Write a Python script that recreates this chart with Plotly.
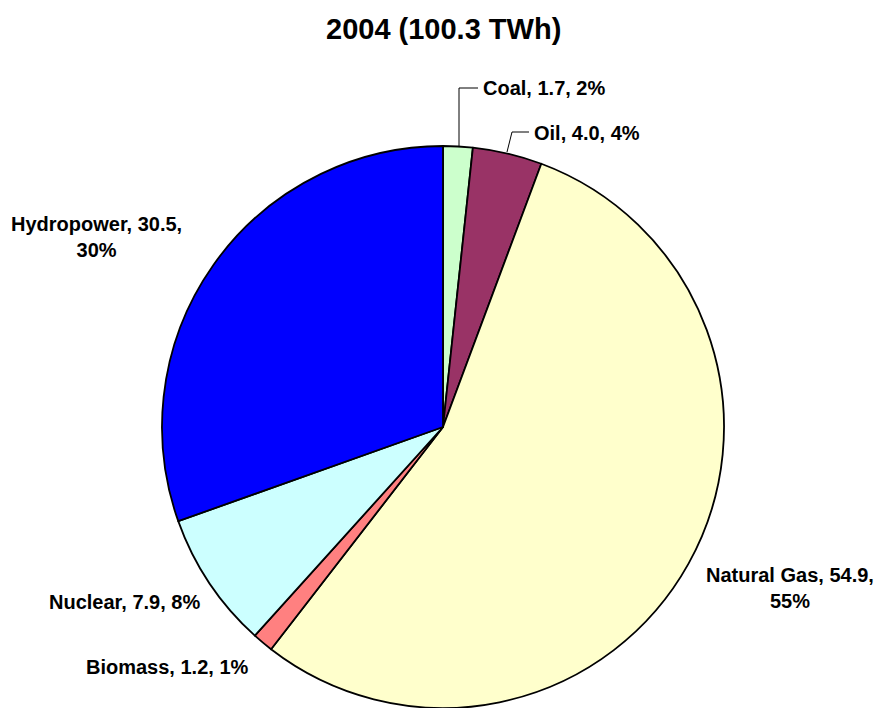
import plotly.graph_objects as go

labels = ["Coal", "Oil", "Natural Gas", "Biomass", "Nuclear", "Hydropower"]
values = [1.7, 4.0, 54.9, 1.2, 7.9, 30.5]
colors = ["#CCFFCC", "#993366", "#FFFFCC", "#FF8080", "#CCFFFF", "#0000FF"]
total_twh = 100.3
title_text = f"2004 ({total_twh} TWh)"

W, H = 883, 708
OFF = 8  # page body margin

def px(x, y):
    return (x - OFF) / W, 1 - (y - OFF) / H

dx0, dy1 = px(162, 146)
dx1, dy0 = px(724, 708)

fig = go.Figure(go.Pie(
    labels=labels, values=values, sort=False, direction="clockwise", rotation=0,
    marker=dict(colors=colors, line=dict(color="black", width=1.8)),
    textinfo="none", hoverinfo="label+value+percent", showlegend=False,
    domain=dict(x=[dx0, dx1], y=[dy0, dy1]),
))

def lab(i, sep=", "):
    pct = round(values[i] / total_twh * 100)
    return f"{labels[i]}, {values[i]:.1f},{sep}{pct}%"

font = dict(family="Liberation Sans, Arial", size=20, color="black")
anns = []
placements = [
    (0, 481, 88, "left", " "),
    (1, 532, 133, "left", " "),
    (2, 790, 588, "center", "<br>"),
    (3, 251, 667, "right", " "),
    (4, 202, 602, "right", " "),
    (5, 96, 237, "center", "<br>"),
]
for i, x, y, xa, sep in placements:
    xx, yy = px(x, y)
    anns.append(dict(x=xx, y=yy, xref="paper", yref="paper", text=f"<b>{lab(i, sep)}</b>",
                     showarrow=False, xanchor=xa, yanchor="middle", align="center", font=font))

tx, ty = px(443, 29)
anns.append(dict(x=tx, y=ty, xref="paper", yref="paper", text=f"<b>{title_text}</b>",
                 showarrow=False, xanchor="center", yanchor="middle",
                 font=dict(family="Liberation Sans, Arial", size=29, color="black")))

shapes = []
def seg(x0, y0, x1, y1):
    a, b = px(x0, y0)
    c, d = px(x1, y1)
    shapes.append(dict(type="line", xref="paper", yref="paper", x0=a, y0=b, x1=c, y1=d,
                       line=dict(color="black", width=1)))
seg(459, 146, 459, 88)
seg(459, 88, 478, 88)
seg(507, 152, 512, 132)
seg(512, 132, 529, 132)

fig.update_layout(width=W, height=H, margin=dict(l=0, r=0, t=0, b=0),
                  paper_bgcolor="white", plot_bgcolor="white",
                  annotations=anns, shapes=shapes)
fig.write_html("out.html")
